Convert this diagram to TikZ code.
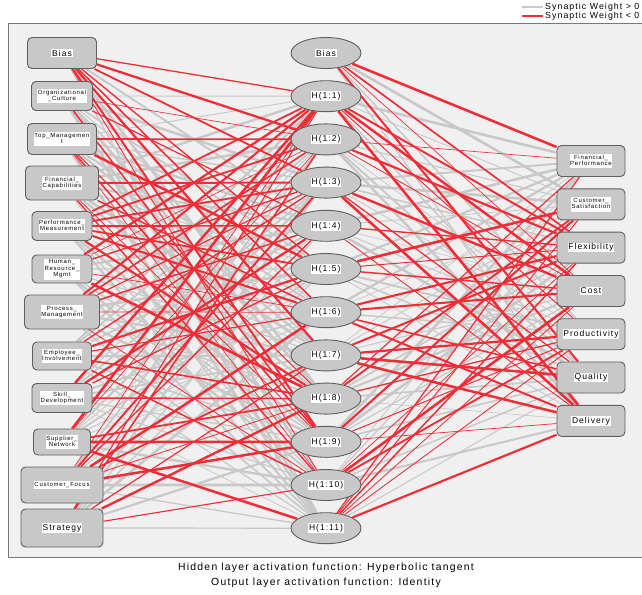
\documentclass[tikz,border=0pt]{standalone}
\usepackage{fontspec}
\setmainfont{Liberation Sans}[LetterSpace=12]
\usetikzlibrary{shapes.geometric}
\definecolor{panelbg}{RGB}{240,240,240}
\definecolor{panelborder}{RGB}{120,120,120}
\definecolor{nodefill}{RGB}{200,200,200}
\definecolor{nodeborder}{RGB}{95,95,95}
\definecolor{posw}{RGB}{200,200,200}
\definecolor{negw}{RGB}{240,45,55}
\pgfdeclarelayer{panel}
\pgfdeclarelayer{edges}
\pgfsetlayers{panel,edges,main}
\newcommand\smlbl[1]{{\fontsize{6}{6.6}\selectfont\setlength{\fboxsep}{0.6pt}\colorbox{white}{\begin{tabular}{@{}c@{}}#1\end{tabular}}}}
\newcommand\bglbl[1]{{\fontsize{8.5}{9}\selectfont\setlength{\fboxsep}{0.8pt}\colorbox{white}{#1}}}
\tikzset{
  boxnode/.style 2 args={draw=nodeborder, fill=nodefill, rounded corners=4.5pt, line width=0.9pt,
    minimum width=#1, minimum height=#2, inner sep=0pt},
  hidnode/.style={ellipse, draw=nodeborder, fill=nodefill, line width=0.9pt,
    minimum width=70pt, minimum height=31pt, inner sep=0pt},
  legtext/.style={anchor=west, inner sep=0pt, font=\fontsize{8.8}{9}\selectfont},
  foottext/.style={inner sep=0pt, font=\fontsize{10.4}{11}\selectfont},
  posline/.style={draw=posw},
  negline/.style={draw=negw},
}
\begin{document}
\begin{tikzpicture}[x=1pt,y=-1pt]
\useasboundingbox (0,0) rectangle (642,594);
\begin{pgfonlayer}{panel}
\fill[panelbg] (8,23) rectangle (660,557);
\draw[panelborder, line width=0.9pt] (660,23) -- (8,23) -- (8,557) -- (660,557);
\end{pgfonlayer}
% input layer
\node[boxnode={69pt}{31pt}] (i1) at (62,53) {\bglbl{Bias}};
\node[boxnode={61pt}{29pt}] (i2) at (62,96) {\smlbl{Organizational\\\_Culture}};
\node[boxnode={69pt}{31pt}] (i3) at (62,139) {\smlbl{Top\_Managemen\\t}};
\node[boxnode={73pt}{34pt}] (i4) at (62,183) {\smlbl{Financial\_\\Capabilities}};
\node[boxnode={60pt}{29pt}] (i5) at (62,226) {\smlbl{Performance\_\\Measurement}};
\node[boxnode={60pt}{28pt}] (i6) at (62,269) {\smlbl{Human\_\\Resource\_\\Mgmt}};
\node[boxnode={75pt}{34pt}] (i7) at (62,312) {\smlbl{Process\_\\Management}};
\node[boxnode={59pt}{28pt}] (i8) at (62,356) {\smlbl{Employee\_\\Involvement}};
\node[boxnode={60pt}{29pt}] (i9) at (62,398) {\smlbl{Skill\_\\Development}};
\node[boxnode={57pt}{26pt}] (i10) at (62,442) {\smlbl{Supplier\_\\Network}};
\node[boxnode={82pt}{36pt}] (i11) at (62,485) {\smlbl{Customer\_Focus}};
\node[boxnode={82pt}{38pt}] (i12) at (62,528) {\bglbl{Strategy}};
% hidden layer
\node[hidnode] (h0) at (326,53) {\bglbl{Bias}};
\foreach \k in {1,...,11}{
  \node[hidnode] (h\k) at (326,{53+43.2*\k}) {\bglbl{H(1:\k)}};
}
% output layer
\node[boxnode={68pt}{31pt}] (o1) at (591,161) {\smlbl{Financial\_\\Performance}};
\node[boxnode={68pt}{31pt}] (o2) at (591,204.3) {\smlbl{Customer\_\\Satisfaction}};
\node[boxnode={68pt}{31pt}] (o3) at (591,247.6) {\bglbl{Flexibility}};
\node[boxnode={68pt}{31pt}] (o4) at (591,291) {\bglbl{Cost}};
\node[boxnode={68pt}{31pt}] (o5) at (591,334.2) {\bglbl{Productivity}};
\node[boxnode={68pt}{31pt}] (o6) at (591,377.5) {\bglbl{Quality}};
\node[boxnode={68pt}{31pt}] (o7) at (591,420.8) {\bglbl{Delivery}};
% connectors
\begin{pgfonlayer}{edges}
\foreach \pass in {0,1}{
  \pgfmathsetseed{20240}
  \foreach \a in {1,...,12}{
    \foreach \b in {1,...,11}{
      \pgfmathtruncatemacro\s{rnd<0.5 ? 1 : 0}
      \pgfmathsetmacro\w{0.6+2.1*rnd}
      \ifnum\s=\pass
        \ifnum\s=1 \draw[negline, line width=\w pt] (i\a) -- (h\b);
        \else \draw[posline, line width=\w pt] (i\a) -- (h\b);
        \fi
      \fi
    }
  }
  \foreach \a in {0,...,11}{
    \foreach \b in {1,...,7}{
      \pgfmathtruncatemacro\s{rnd<0.5 ? 1 : 0}
      \pgfmathsetmacro\w{0.6+2.1*rnd}
      \ifnum\s=\pass
        \ifnum\s=1 \draw[negline, line width=\w pt] (h\a) -- (o\b);
        \else \draw[posline, line width=\w pt] (h\a) -- (o\b);
        \fi
      \fi
    }
  }
}
\end{pgfonlayer}
% legend
\coordinate (lp1) at (522,7);
\coordinate (lp2) at (543,7);
\coordinate (ln1) at (522,16);
\coordinate (ln2) at (543,16);
\draw[posline, line width=1.2pt] (lp1) -- (lp2);
\draw[negline, line width=1.2pt] (ln1) -- (ln2);
\node[legtext] (lt1) at (545,7) {Synaptic Weight > 0};
\node[legtext] (lt2) at (545,16) {Synaptic Weight < 0};
% footer
\node[foottext] (f1) at (326,568) {Hidden layer activation function: Hyperbolic tangent};
\node[foottext] (f2) at (326,583) {Output layer activation function: Identity};
\end{tikzpicture}
\end{document}
